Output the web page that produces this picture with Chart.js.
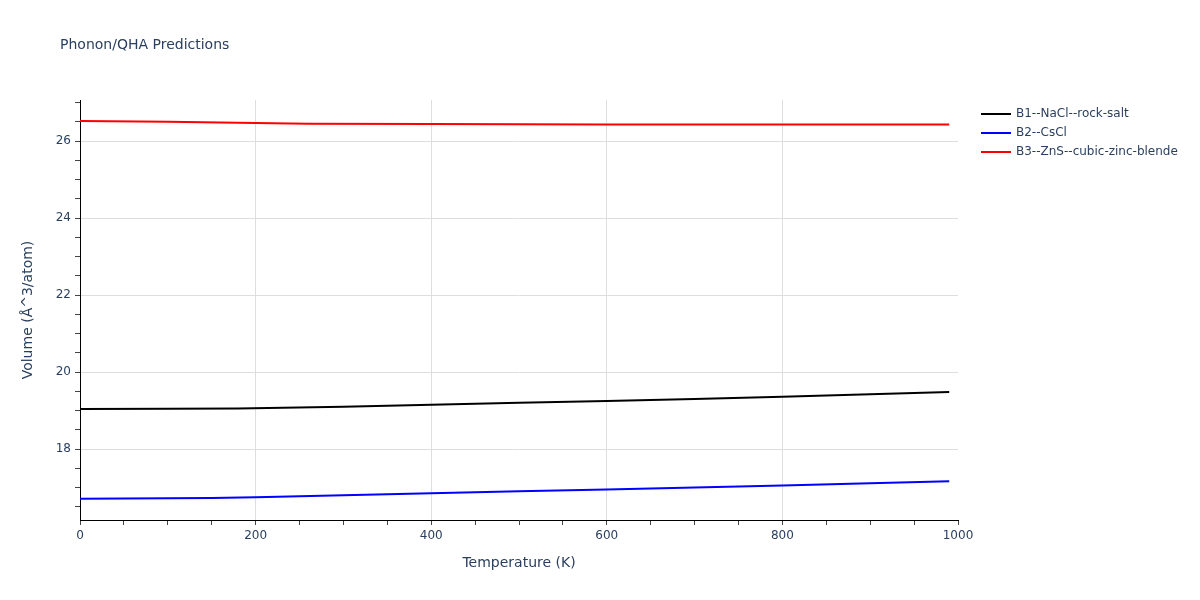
<!DOCTYPE html>
<html>
<head>
<meta charset="utf-8">
<script src="https://cdn.jsdelivr.net/npm/chart.js@4/dist/chart.umd.min.js"></script>
<style>
  html, body { margin: 0; padding: 0; background: #fff; }
  #wrap { width: 1200px; height: 600px; }
</style>
</head>
<body>
<div id="wrap"><canvas id="qha_chart" width="1200" height="600"></canvas></div>
<script>
// values
const seriesNames = ["B1--NaCl--rock-salt", "B2--CsCl", "B3--ZnS--cubic-zinc-blende"];
const seriesColors = ["#000000", "#0000ff", "#ff0000"];

const b1Temp = [0, 100, 180, 300, 400, 500, 600, 700, 800, 900, 990];
const b1Vol  = [19.04, 19.045, 19.05, 19.10, 19.15, 19.20, 19.25, 19.30, 19.36, 19.42, 19.48];

const b2Temp = [0, 100, 150, 200, 300, 400, 500, 600, 700, 800, 900, 990];
const b2Vol  = [16.71, 16.72, 16.73, 16.75, 16.80, 16.85, 16.90, 16.95, 17.00, 17.05, 17.11, 17.16];

const b3Temp = [0, 100, 200, 260, 400, 600, 800, 990];
const b3Vol  = [26.52, 26.50, 26.47, 26.45, 26.44, 26.43, 26.43, 26.43];

const xTickLabels = [0, 200, 400, 600, 800, 1000];
const yTickLabels = [18, 20, 22, 24, 26];

const FONT = '"DejaVu Sans", Verdana, sans-serif';
const TXT = '#2a3f5f';

function pts(xs, ys) {
    let arr = [];
    for (let i = 0; i < xs.length; i++) arr.push({x: xs[i], y: ys[i]});
    return arr;
}

function isOn(v, list) {
    return list.some(t => Math.abs(t - v) < 1e-6);
}

// titles + legend drawn by hand, plotly style
const decor = {
    id: 'decor',
    afterDraw(chart) {
        const ctx = chart.ctx;
        const area = chart.chartArea;
        ctx.save();
        ctx.fillStyle = TXT;
        ctx.font = '14px ' + FONT;
        ctx.textBaseline = 'middle';
        ctx.textAlign = 'left';
        ctx.fillText('Phonon/QHA Predictions', 60, 45);

        ctx.textAlign = 'center';
        ctx.fillText('Temperature (K)', (area.left + area.right) / 2, 563);
        ctx.save();
        ctx.translate(28, (area.top + area.bottom) / 2);
        ctx.rotate(-Math.PI / 2);
        ctx.fillText('Volume (Å^3/atom)', 0, 0);
        ctx.restore();

        ctx.font = '12px ' + FONT;
        ctx.textAlign = 'left';
        for (let i = 0; i < seriesNames.length; i++) {
            let y = 114 + i * 19;
            ctx.strokeStyle = seriesColors[i];
            ctx.lineWidth = 2;
            ctx.beginPath();
            ctx.moveTo(981, y);
            ctx.lineTo(1011, y);
            ctx.stroke();
            ctx.fillStyle = TXT;
            ctx.fillText(seriesNames[i], 1016, y);
        }
        ctx.restore();
    }
};

let datasets = [pts(b1Temp, b1Vol), pts(b2Temp, b2Vol), pts(b3Temp, b3Vol)].map(function (d, i) {
    return {
        label: seriesNames[i],
        data: d,
        borderColor: seriesColors[i],
        backgroundColor: seriesColors[i],
        borderWidth: 2,
        pointRadius: 0,
        showLine: true,
        tension: 0
    };
});

let chart = new Chart(document.getElementById('qha_chart'), {
    type: 'scatter',
    data: { datasets: datasets },
    options: {
        responsive: false,
        animation: false,
        layout: { padding: { top: 100, right: 242, left: 0, bottom: 0 } },
        plugins: { legend: { display: false }, tooltip: { enabled: false } },
        scales: {
            x: {
                type: 'linear',
                min: 0,
                max: 1000,
                afterBuildTicks: function (scale) {
                    let t = [];
                    for (let v = 0; v <= 1000; v += 50) t.push({value: v});
                    scale.ticks = t;
                },
                afterFit: function (scale) { scale.height = 80; },
                ticks: {
                    color: TXT,
                    font: { family: FONT, size: 12 },
                    padding: 4,
                    maxRotation: 0,
                    autoSkip: false,
                    callback: function (v) { return isOn(v, xTickLabels) ? v : ''; }
                },
                grid: {
                    color: function (c) {
                        let v = c.tick ? c.tick.value : 0;
                        return (isOn(v, xTickLabels) && v > 0 && v < 1000) ? '#dedede' : 'rgba(0,0,0,0)';
                    },
                    tickColor: '#444',
                    tickLength: 5,
                    drawOnChartArea: true
                },
                border: { display: true, color: '#000', width: 1 }
            },
            y: {
                type: 'linear',
                min: 16.156,
                max: 27.065,
                afterBuildTicks: function (scale) {
                    let t = [];
                    for (let v = 16.5; v <= 27; v += 0.5) t.push({value: v});
                    scale.ticks = t;
                },
                afterFit: function (scale) { scale.width = 80; },
                ticks: {
                    color: TXT,
                    font: { family: FONT, size: 12 },
                    padding: 4,
                    autoSkip: false,
                    callback: function (v) { return isOn(v, yTickLabels) ? v : ''; }
                },
                grid: {
                    color: function (c) {
                        let v = c.tick ? c.tick.value : 0;
                        return isOn(v, yTickLabels) ? '#dedede' : 'rgba(0,0,0,0)';
                    },
                    tickColor: '#444',
                    tickLength: 5
                },
                border: { display: true, color: '#000', width: 1 }
            }
        }
    },
    plugins: [decor]
});
</script>
</body>
</html>
